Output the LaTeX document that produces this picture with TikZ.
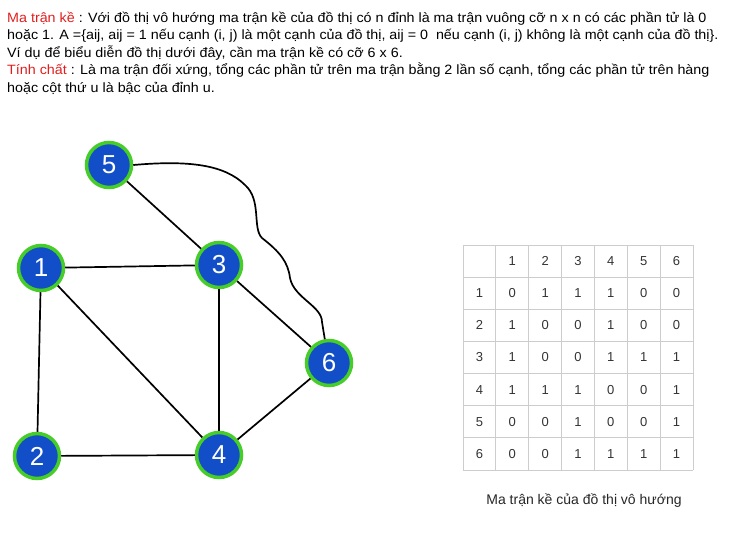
\documentclass[tikz,border=0pt]{standalone}
\usepackage{fontspec}
\setmainfont{Liberation Sans}
\newfontfamily\introfont{Liberation Sans}[FakeStretch=1.06]
\usetikzlibrary{positioning}
\definecolor{nodeblue}{RGB}{18,78,200}
\definecolor{ringgreen}{RGB}{70,205,40}
\definecolor{titlered}{RGB}{225,30,30}
\definecolor{gridgray}{RGB}{205,205,205}

\begin{document}
\begin{tikzpicture}
    [x=1pt, y=-1pt,
    vertex/.style={circle, fill=nodeblue, draw=ringgreen, line width=3.5pt, minimum size=45pt, inner sep=0pt, text=white, font=\fontsize{26}{26}\selectfont},
    edge/.style={line width=1.7pt},
    gridline/.style={draw=gridgray, line width=0.8pt},
    cell/.style={font=\fontsize{13}{13}\selectfont, text=black!80}]
    \useasboundingbox (0,0) rectangle (739,544);
    % description
    \node[anchor=north west, align=left, inner sep=0pt, font=\introfont\fontsize{13.5}{17.5}\selectfont] (intro) at (7,11.5)
      {\textcolor{titlered}{Ma trận kề} : Với đồ thị vô hướng ma trận kề của đồ thị có n đỉnh là ma trận vuông cỡ n x n có các phần tử là 0\\
       hoặc 1. A =\{aij, aij = 1 nếu cạnh (i, j) là một cạnh của đồ thị, aij = 0\ \ nếu cạnh (i, j) không là một cạnh của đồ thị\}.\\
       Ví dụ để biểu diễn đồ thị dưới đây, cần ma trận kề có cỡ 6 x 6.\\
       \textcolor{titlered}{Tính chất} : Là ma trận đối xứng, tổng các phần tử trên ma trận bằng 2 lần số cạnh, tổng các phần tử trên hàng\\
       hoặc cột thứ u là bậc của đỉnh u.};
    % graph
    \node[vertex] (5) at (109,165) {5};
    \node[vertex] (1) at (41,268)  {1};
    \node[vertex] (3) at (219,265) {3};
    \node[vertex] (6) at (329,363) {6};
    \node[vertex] (2) at (37,456)  {2};
    \node[vertex] (4) at (219,455) {4};
    %
    \draw[edge] (5) -- (3);
    \draw[edge] (1) -- (3);
    \draw[edge] (1) -- (2);
    \draw[edge] (1) -- (4);
    \draw[edge] (3) -- (4);
    \draw[edge] (3) -- (6);
    \draw[edge] (2) -- (4);
    \draw[edge] (4) -- (6);
    \draw[edge] (5.east) .. controls (190,160) and (225,165) .. (245,185)
                .. controls (262,200) and (252,228) .. (262,238)
                .. controls (280,252) and (288,262) .. (290,278)
                .. controls (294,298) and (322,306) .. (322,322) -- (6.100);
    % adjacency table
    \foreach \k in {0,...,7} {
      \draw[gridline] (463+32.857*\k,245) -- (463+32.857*\k,470);
      \draw[gridline] (463,245+32.143*\k) -- (693,245+32.143*\k);
    }
    \foreach \c in {1,...,6}
      \node[cell] (h\c) at (479.43+32.857*\c, 261.07) {\c};
    \foreach \r/\vals in {1/{0,1,1,1,0,0}, 2/{1,0,0,1,0,0}, 3/{1,0,0,1,1,1},
                          4/{1,1,1,0,0,1}, 5/{0,0,1,0,0,1}, 6/{0,0,1,1,1,1}} {
      \node[cell] (r\r) at (479.43, 261.07+32.143*\r) {\r};
      \foreach \v [count=\c] in \vals
        \node[cell] (m\r\c) at (479.43+32.857*\c, 261.07+32.143*\r) {\v};
    }
    \node[font=\fontsize{14}{14}\selectfont, text=black!85] (caption) at (584,501) {Ma trận kề của đồ thị vô hướng};
\end{tikzpicture}
\end{document}
